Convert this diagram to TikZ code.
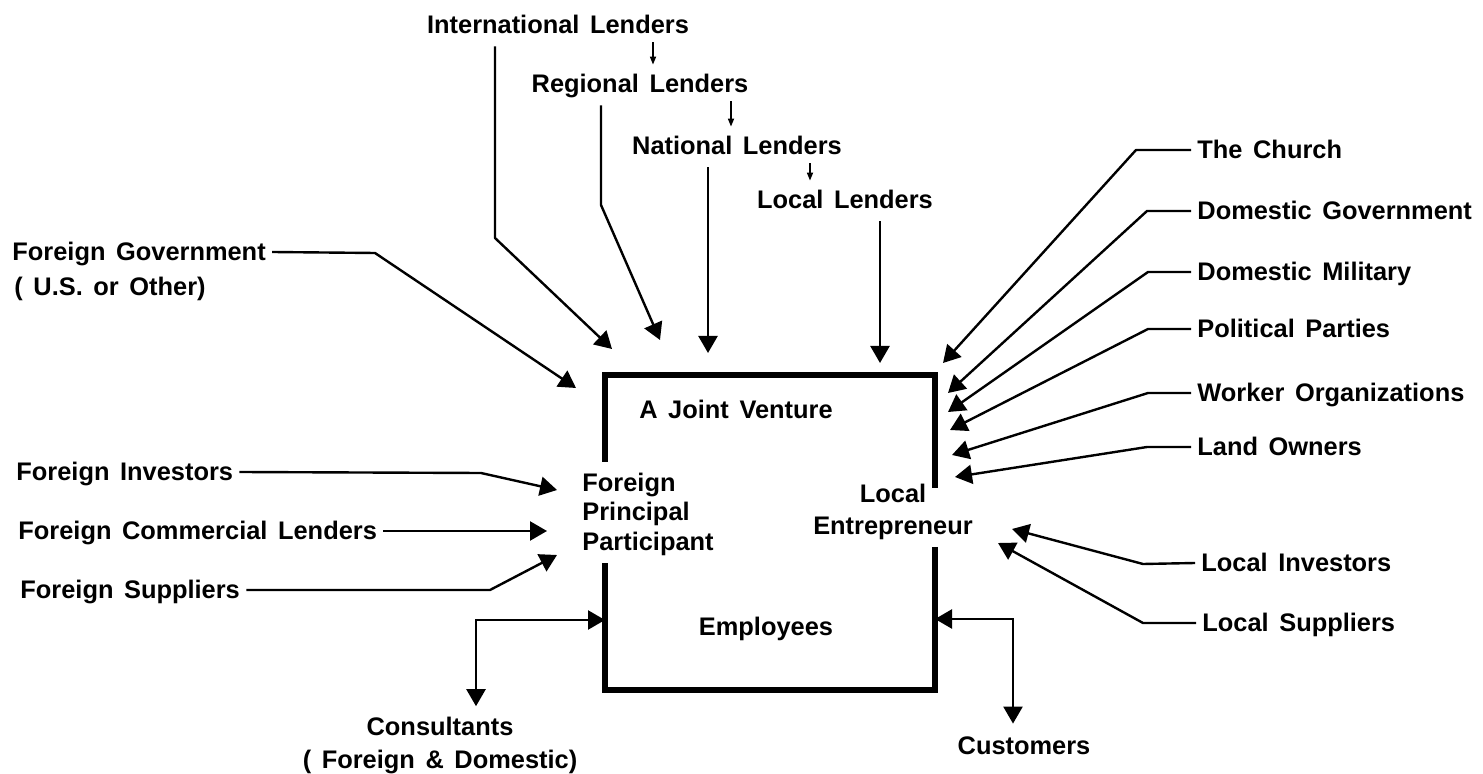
\documentclass[tikz,border=0pt]{standalone}
\usepackage{fontspec}
\setmainfont{Liberation Sans}[WordSpace=1.5]
\usetikzlibrary{arrows.meta}
\tikzset{
  lbl/.style={inner sep=3pt, font=\bfseries\fontsize{12.7}{15}\selectfont, text height=9pt, text depth=0pt},
  mlbl/.style={inner sep=3pt, font=\bfseries\fontsize{12.7}{15}\selectfont},
  cline/.style={-{Triangle[length=8.5pt,width=9.5pt]}, line width=1.2pt, line join=round},
  dline/.style={{Triangle[length=8.5pt,width=9.5pt]}-{Triangle[length=8.5pt,width=9.5pt]}, line width=1.2pt},
  sline/.style={-{Triangle[length=4pt,width=3pt]}, line width=0.8pt, shorten <=1pt, shorten >=2pt},
  jvline/.style={line width=2.8pt},
}

\begin{document}
\begin{tikzpicture}[>=Latex, x=0.5pt, y=-0.5pt]
  \useasboundingbox (0,0) rectangle (1483,774);

  % the joint venture
  \draw[jvline] (605,462) -- (605,375) -- (935,375) -- (935,488);
  \draw[jvline] (935,547) -- (935,690) -- (605,690) -- (605,563);
  \node[lbl] (jvt) at (736,410) {A Joint Venture};
  \node[mlbl, align=left, anchor=west, font=\bfseries\fontsize{12.7}{14.75}\selectfont] (fpp) at (576,514) {Foreign\\Principal\\Participant};
  \node[mlbl, align=center, font=\bfseries\fontsize{12.7}{16}\selectfont] (lent) at (893,512) {Local\\Entrepreneur};
  \node[lbl] (emp) at (766,627) {Employees};

  % lenders
  \node[lbl] (intl) at (558,25) {International Lenders};
  \node[lbl] (reg) at (640,84) {Regional Lenders};
  \node[lbl] (nat) at (737,146) {National Lenders};
  \node[lbl] (loc) at (845,200) {Local Lenders};
  \coordinate (a1) at (653,0);
  \coordinate (a2) at (731,0);
  \coordinate (a3) at (810,0);
  \draw[sline] (a1 |- intl.south) -- (a1 |- reg.north);
  \draw[sline] (a2 |- reg.south) -- (a2 |- nat.north);
  \draw[sline] (a3 |- nat.south) -- (a3 |- loc.north);

  \coordinate (intbend) at (495,238);
  \coordinate (regbend) at (601,205);
  \coordinate (nattip) at (708,353);
  \coordinate (loctip) at (880,363);
  \draw[cline, shorten <=3pt] (intbend |- intl.south) -- (intbend) -- (612,349);
  \draw[cline, shorten <=3pt] (regbend |- reg.south) -- (regbend) -- (660,340);
  \draw[cline, shorten <=3pt] (nattip |- nat.south) -- (nattip);
  \draw[cline, shorten <=3pt] (loctip |- loc.south) -- (loctip);

  % foreign side
  \node[lbl, anchor=west] (fgov) at (6,252) {Foreign Government};
  \node[lbl, anchor=west] (fgovsub) at (8,287) {( U.S. or Other)};
  \draw[cline] (fgov.east) -- (375,253) -- (576,388);
  \node[lbl, anchor=west] (finv) at (10,472) {Foreign Investors};
  \draw[cline] (finv.east) -- (481,473) -- (557,490);
  \node[lbl, anchor=west] (fcl) at (12,531) {Foreign Commercial Lenders};
  \draw[cline] (fcl.east) -- (547,531);
  \node[lbl, anchor=west] (fsup) at (14,590) {Foreign Suppliers};
  \draw[cline] (fsup.east) -- (490,590) -- (557,555);

  % domestic side
  \foreach \nm/\txt/\y/\bx/\tx/\ty in {church/The Church/150/1136/943/363,
      dgov/Domestic Government/211/1147/948/393,
      dmil/Domestic Military/272/1148/948/412,
      pol/Political Parties/329/1148/950/430,
      work/Worker Organizations/393/1148/952/455,
      land/Land Owners/447/1147/955/477} {
    \node[lbl, anchor=west] (\nm) at (1191,\y) {\txt};
    \draw[cline] (\nm.west) -- (\bx,\y) -- (\tx,\ty);
  }
  \node[lbl, anchor=west] (linv) at (1195,563) {Local Investors};
  \draw[cline] (linv.west) -- (1143,564) -- (1012,529);
  \node[lbl, anchor=west] (lsup) at (1196,623) {Local Suppliers};
  \draw[cline] (lsup.west) -- (1143,623) -- (998,543);

  % consultants and customers
  \node[mlbl, align=center, font=\bfseries\fontsize{12.7}{16.5}\selectfont] (cons) at (440,745) {Consultants\\( Foreign \& Domestic)};
  \node[lbl] (cust) at (1024,745) {Customers};
  \coordinate (contip) at (605,620);
  \coordinate (conbend) at (476,620);
  \coordinate (custip) at (935,619);
  \coordinate (cusbend) at (1013,619);
  \draw[dline, shorten >=2pt] (contip) -- (conbend) -- (conbend |- cons.north);
  \draw[dline, shorten >=3pt] (custip) -- (cusbend) -- (cusbend |- cust.north);
\end{tikzpicture}
\end{document}
